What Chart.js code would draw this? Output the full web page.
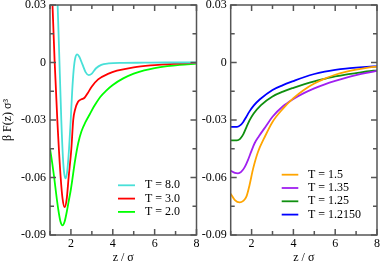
<!DOCTYPE html>
<html>
<head>
<meta charset="utf-8">
<script src="https://cdn.jsdelivr.net/npm/chart.js@4.4.1/dist/chart.umd.min.js"></script>
<style>
  html, body { margin: 0; padding: 0; background: #fff; }
  #wrap { position: relative; width: 382px; height: 264px; }
  canvas { position: absolute; top: 0; }
  #left { left: 0; width: 200px; height: 264px; }
  #right { left: 190px; width: 192px; height: 264px; }
</style>
</head>
<body>
<div id="wrap">
  <canvas id="left" width="200" height="264"></canvas>
  <canvas id="right" width="192" height="264"></canvas>
</div>
<script>
// axis ticks
const zTicks = [1, 2, 3, 4, 5, 6, 7, 8];
const fTicks = [-0.09, -0.075, -0.06, -0.045, -0.03, -0.015, 0, 0.015, 0.03];

// left panel: high temperatures
const z80 = [1.0, 1.2, 1.35, 1.43, 1.54, 1.62, 1.68, 1.75, 1.82, 1.91, 1.99, 2.06, 2.13, 2.2, 2.3, 2.4, 2.55, 2.7, 2.85, 3.0, 3.2, 3.45, 3.8, 4.5, 5.5, 6.5, 8.0];
const f80 = [0.2, 0.09, 0.035, 0.008, -0.03, -0.05, -0.058, -0.0605, -0.057, -0.045, -0.03, -0.015, -0.004, 0.002, 0.0042, 0.003, -0.001, -0.005, -0.0066, -0.0058, -0.003, -0.0012, -0.0005, -0.0002, -0.0001, 0, 0];

const z30 = [1.0, 1.12, 1.22, 1.35, 1.51, 1.6, 1.7, 1.8, 1.89, 2.02, 2.11, 2.2, 2.34, 2.5, 2.65, 2.8, 3.0, 3.3, 3.8, 4.2, 5.0, 5.8, 6.5, 7.3, 8.0];
const f30 = [0.065, 0.03, 0.001, -0.03, -0.06, -0.071, -0.0755, -0.071, -0.06, -0.045, -0.03, -0.0245, -0.0205, -0.0192, -0.0184, -0.016, -0.0125, -0.0088, -0.0058, -0.0043, -0.0025, -0.0015, -0.001, -0.0005, -0.0002];

const z20 = [1.0, 1.1, 1.2, 1.3, 1.4, 1.5, 1.6, 1.7, 1.8, 1.9, 2.0, 2.2, 2.35, 2.5, 2.7, 2.9, 3.1, 3.4, 3.7, 4.0, 4.5, 5.0, 5.5, 6.0, 6.6, 7.2, 8.0];
const f20 = [-0.045, -0.052, -0.06, -0.069, -0.077, -0.083, -0.085, -0.083, -0.078, -0.072, -0.066, -0.051, -0.042, -0.036, -0.031, -0.027, -0.023, -0.018, -0.0145, -0.0117, -0.0083, -0.0058, -0.0041, -0.0029, -0.0019, -0.0012, -0.0006];

// right panel: low temperatures
const z150 = [1.0, 1.2, 1.43, 1.6, 1.75, 1.9, 2.07, 2.3, 2.6, 3.0, 3.5, 4.0, 4.5, 5.0, 5.5, 6.0, 6.5, 7.0, 7.5, 8.0];
const f150 = [-0.0685, -0.0718, -0.073, -0.0722, -0.07, -0.064, -0.0555, -0.0468, -0.0395, -0.031, -0.0241, -0.0186, -0.0143, -0.011, -0.0084, -0.0064, -0.0049, -0.0037, -0.0028, -0.0021];

const z135 = [1.0, 1.2, 1.35, 1.5, 1.67, 1.83, 1.99, 2.15, 2.35, 2.7, 3.0, 3.5, 4.0, 4.5, 5.0, 5.5, 6.0, 6.5, 7.0, 7.5, 8.0];
const f135 = [-0.0565, -0.0576, -0.0578, -0.0571, -0.0546, -0.0508, -0.0462, -0.042, -0.0385, -0.033, -0.0283, -0.0228, -0.019, -0.016, -0.0135, -0.0114, -0.0096, -0.008, -0.0066, -0.0054, -0.0044];

const z125 = [1.0, 1.3, 1.45, 1.6, 1.75, 1.9, 2.1, 2.45, 3.0, 3.5, 4.0, 4.5, 5.0, 5.5, 6.0, 6.5, 7.0, 7.5, 8.0];
const f125 = [-0.0406, -0.0406, -0.0398, -0.0375, -0.0338, -0.0302, -0.0266, -0.0222, -0.0177, -0.0152, -0.0132, -0.0114, -0.0098, -0.0085, -0.0073, -0.0063, -0.0055, -0.0047, -0.0041];

const z1215 = [1.0, 1.3, 1.45, 1.6, 1.75, 1.9, 2.1, 2.4, 3.0, 3.5, 4.0, 4.5, 5.0, 5.5, 6.0, 6.5, 7.0, 7.5, 8.0];
const f1215 = [-0.0336, -0.0336, -0.0328, -0.031, -0.0283, -0.0255, -0.0225, -0.0192, -0.0143, -0.0118, -0.0097, -0.0077, -0.006, -0.0048, -0.0039, -0.0032, -0.0027, -0.0023, -0.002];

const leftLabels = ["T = 8.0", "T = 3.0", "T = 2.0"];
const rightLabels = ["T = 1.5", "T = 1.35", "T = 1.25", "T = 1.2150"];

Chart.defaults.font.family = "'Liberation Serif', 'Times New Roman', serif";
Chart.defaults.font.size = 12;
Chart.defaults.color = "#000";

const pts = (zs, fs) => zs.map((z, i) => ({ x: z, y: fs[i] }));

const line = (label, zs, fs, color) => ({
  label,
  data: pts(zs, fs),
  borderColor: color,
  borderWidth: 1.8,
  pointRadius: 0,
  fill: false,
  cubicInterpolationMode: "monotone",
});

// frame with inward ticks on all four sides, plus in-plot legend
const framePlugin = {
  id: "frame",
  afterDraw(chart, args, opts) {
    const { ctx, chartArea: a, scales } = chart;
    const x = scales.x, y = scales.y;
    ctx.save();
    ctx.strokeStyle = "#555";
    ctx.lineWidth = 1.5;
    ctx.strokeRect(a.left, a.top, a.right - a.left, a.bottom - a.top);
    ctx.beginPath();
    x.ticks.forEach((t) => {
      const px = x.getPixelForValue(t.value);
      const len = t.value % 2 === 0 ? 6 : 4;
      ctx.moveTo(px, a.bottom);
      ctx.lineTo(px, a.bottom - len);
      ctx.moveTo(px, a.top);
      ctx.lineTo(px, a.top + len);
    });
    y.ticks.forEach((t, i) => {
      const py = y.getPixelForValue(t.value);
      const len = i % 2 === 0 ? 6 : 4;
      ctx.moveTo(a.left, py);
      ctx.lineTo(a.left + len, py);
      ctx.moveTo(a.right, py);
      ctx.lineTo(a.right - len, py);
    });
    ctx.stroke();

    const lg = opts.legend;
    ctx.font = "12px 'Liberation Serif', serif";
    ctx.textBaseline = "middle";
    ctx.fillStyle = "#000";
    chart.data.datasets.forEach((ds, i) => {
      const yy = a.bottom + lg.y0 + i * lg.dy;
      ctx.strokeStyle = ds.borderColor;
      ctx.lineWidth = 1.8;
      ctx.beginPath();
      ctx.moveTo(a.right + lg.x0, yy);
      ctx.lineTo(a.right + lg.x1, yy);
      ctx.stroke();
      ctx.fillText(ds.label, a.right + lg.tx, yy);
    });
    ctx.restore();
  },
};

function makeOptions(yWidth, padRight, yTitle, legend) {
  return {
    responsive: false,
    animation: false,
    devicePixelRatio: 1,
    layout: { padding: { top: 5, right: padRight, bottom: 0, left: 0 } },
    plugins: {
      legend: { display: false },
      tooltip: { enabled: false },
      frame: { legend },
    },
    scales: {
      x: {
        type: "linear",
        min: 1,
        max: 8,
        afterBuildTicks: (s) => { s.ticks = zTicks.map((v) => ({ value: v })); },
        ticks: {
          padding: 2,
          maxRotation: 0,
          autoSkip: false,
          callback: (v) => (v % 2 === 0 ? String(v) : ""),
        },
        grid: { display: false, drawTicks: false, tickLength: 0 },
        border: { display: false },
        title: {
          display: true,
          text: "z / σ",
          font: { size: 12, lineHeight: 1 },
          padding: { top: 0, bottom: 0 },
        },
        afterFit: (s) => { s.height = 29; s.paddingLeft = 0; s.paddingRight = 0; },
      },
      y: {
        type: "linear",
        min: -0.09,
        max: 0.03,
        afterBuildTicks: (s) => { s.ticks = fTicks.map((v) => ({ value: v })); },
        ticks: {
          padding: 4,
          autoSkip: false,
          callback: (v, i) => (i % 2 === 0 ? (Math.abs(v) < 1e-9 ? "0" : v.toFixed(2)) : ""),
        },
        grid: { display: false, drawTicks: false, tickLength: 0 },
        border: { display: false },
        title: {
          display: !!yTitle,
          text: yTitle || "",
          font: { size: 12, lineHeight: 1 },
          padding: { top: 2, bottom: 0 },
        },
        afterFit: (s) => { s.width = yWidth; s.paddingTop = 0; s.paddingBottom = 0; },
      },
    },
  };
}

new Chart(document.getElementById("left"), {
  type: "line",
  data: {
    datasets: [
      line(leftLabels[0], z80, f80, "#48e0d8"),
      line(leftLabels[1], z30, f30, "#ff0000"),
      line(leftLabels[2], z20, f20, "#00ff00"),
    ],
  },
  options: makeOptions(50, 3.5, "β F(z) σ³", { x0: -78.5, x1: -61.5, tx: -51.5, y0: -49.7, dy: 13.3 }),
  plugins: [framePlugin],
});

new Chart(document.getElementById("right"), {
  type: "line",
  data: {
    datasets: [
      line(rightLabels[0], z150, f150, "#ffa500"),
      line(rightLabels[1], z135, f135, "#a020f0"),
      line(rightLabels[2], z125, f125, "#0f8f0f"),
      line(rightLabels[3], z1215, f1215, "#0000ff"),
    ],
  },
  options: makeOptions(40.7, 5, "", { x0: -95.3, x1: -78.7, tx: -69, y0: -60.3, dy: 13.3 }),
  plugins: [framePlugin],
});
</script>
</body>
</html>
